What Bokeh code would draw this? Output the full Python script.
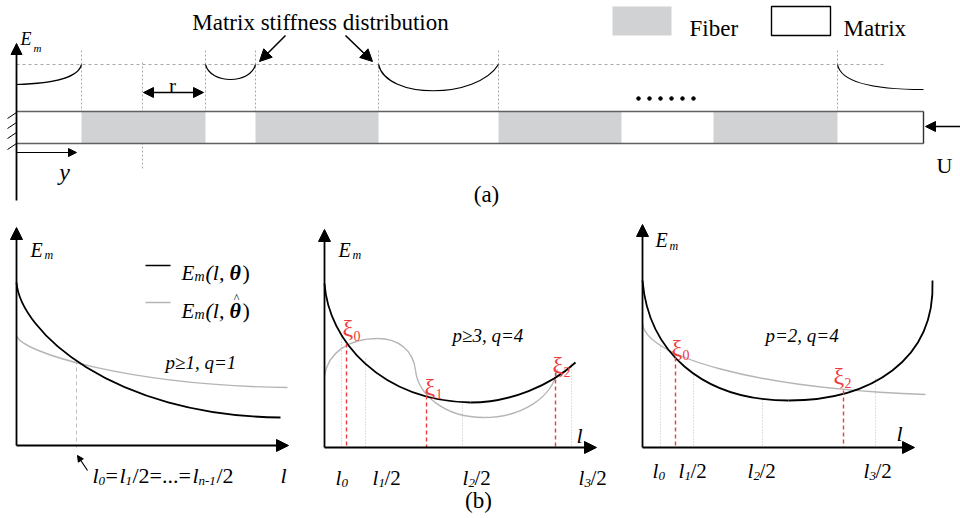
from bokeh.plotting import figure
from bokeh.models import Range1d, Arrow, NormalHead
from bokeh.core.properties import value
from bokeh.embed import file_html
from bokeh.resources import INLINE

SERIF = value("Liberation Serif")
RED = "#ee3b3b"
FIBER_FILL = "#d1d2d4"
CURVE_GRAY = "#b5b5b5"

# ---------------- data (schematic, pixel units of the drawing) ----------------
# (a) bar along y
bar_left, bar_right, bar_top, bar_bottom = 16, 923, 111, 143
fiber_left = [81, 255, 498, 713]
fiber_right = [205, 378, 621, 837]
interface_x = [81, 205, 255, 378, 498, 837]
ref_level = 64
# matrix stiffness distribution, cubic Bezier segments
stiff_x0 = [16, 205, 378, 837]
stiff_y0 = [84, 64, 64, 64]
stiff_cx0 = [52, 210, 386, 840]
stiff_cy0 = [83, 84, 99, 80]
stiff_cx1 = [78, 250, 476, 866]
stiff_cy1 = [77, 84, 99, 89]
stiff_x1 = [81, 255, 498, 923]
stiff_y1 = [64, 64, 64, 89]
dots_x = [638, 649, 660, 671, 682, 693]

# (b) left: p>=1, q=1
left_black = dict(x0=[16], y0=[282], cx0=[20], cy0=[330], cx1=[110], cy1=[415], x1=[280], y1=[417])
left_gray = dict(x0=[16], y0=[335], cx0=[20], cy0=[352], cx1=[130], cy1=[385], x1=[287], y1=[387])
left_l0 = 76

# (b) middle: p>=3, q=4
mid_black = dict(x0=[324, 470], y0=[283, 402], cx0=[328, 510], cy0=[340, 402],
                 cx1=[380, 550], cy1=[400, 385], x1=[470, 575], y1=[402, 362])
mid_gray = dict(x0=[324, 377, 415, 483], y0=[375, 338, 370, 417],
                cx0=[328, 398, 418, 520], cy0=[352, 338, 395, 417],
                cx1=[348, 413, 445, 552], cy1=[338, 350, 417, 398],
                x1=[377, 415, 483, 557], y1=[338, 370, 417, 369])
mid_xi_x = [346, 426, 555]
mid_xi_y = [343, 395, 372]
mid_grid_x = [341, 365, 462, 571]
mid_grid_top = [338, 358, 401, 363]

# (b) right: p=2, q=4
right_black = dict(x0=[642, 788], y0=[280, 400], cx0=[648, 870], cy0=[350, 400],
                   cx1=[700, 935], cy1=[400, 360], x1=[788, 932], y1=[400, 280])
right_gray = dict(x0=[642], y0=[323], cx0=[645], cy0=[355], cx1=[750], cy1=[388], x1=[925], y1=[394])
right_xi_x = [675, 843]
right_xi_y = [357, 390]
right_grid_x = [660, 693, 762, 875]
right_grid_top = [346, 375, 399, 378]

# ---------------- figure ----------------
p = figure(width=960, height=518, x_range=Range1d(0, 960), y_range=Range1d(518, 0),
           output_backend="svg", toolbar_location=None, min_border=0,
           x_axis_location=None, y_axis_location=None)
p.grid.visible = False
p.outline_line_color = None
p.background_fill_color = "white"


def txt(x, y, s, size, style="normal", color="black", align="left"):
    p.text(x=[x], y=[y], text=[s], text_font=SERIF, text_font_size=f"{size}px",
           text_font_style=style, text_color=color, text_align=align,
           text_baseline="alphabetic")


def arrow(x0, y0, x1, y1, size=11, width=1.6):
    h = NormalHead(size=size, fill_color="black", line_color="black", line_width=1)
    p.add_layout(Arrow(end=h, x_start=x0, y_start=y0, x_end=x1, y_end=y1,
                       line_color="black", line_width=width))


def bez(d, color, width):
    p.bezier(line_color=color, line_width=width, **d)


# ---------------- (a) ----------------
p.line([bar_left, 884], [ref_level, ref_level], line_color="#a8a8a8", line_width=1, line_dash="3 3")
p.segment(x0=interface_x, y0=[50] * len(interface_x), x1=interface_x, y1=[bar_top] * len(interface_x),
          line_color="#a8a8a8", line_width=1, line_dash="2 2")
p.segment(x0=[142], y0=[62], x1=[142], y1=[169], line_color="#a8a8a8", line_width=1, line_dash="2 2")

p.quad(left=fiber_left, right=fiber_right, top=[bar_top] * 4, bottom=[bar_bottom] * 4,
       fill_color=FIBER_FILL, line_color=None)
p.segment(x0=[bar_left, bar_left], y0=[bar_top, bar_bottom], x1=[bar_right, bar_right],
          y1=[bar_top, bar_bottom], line_color="#606060", line_width=1.6)
p.segment(x0=[bar_right], y0=[bar_top], x1=[bar_right], y1=[bar_bottom], line_color="#303030", line_width=1.4)

hy = [112, 122, 132, 143]
p.segment(x0=[7] * 4, y0=[h + 6 for h in hy], x1=[16] * 4, y1=hy, line_color="black", line_width=1)

p.bezier(x0=stiff_x0, y0=stiff_y0, cx0=stiff_cx0, cy0=stiff_cy0, cx1=stiff_cx1, cy1=stiff_cy1,
         x1=stiff_x1, y1=stiff_y1, line_color="black", line_width=1.2)
p.scatter(dots_x, [98] * len(dots_x), size=3.6, color="black")

arrow(16, 200, 16, 43, size=11, width=1.8)
arrow(16, 152, 76, 152, size=8, width=1.2)
p.add_layout(Arrow(start=NormalHead(size=10, fill_color="black", line_color="black"),
                   end=NormalHead(size=10, fill_color="black", line_color="black"),
                   x_start=143, y_start=92, x_end=203, y_end=92, line_color="black", line_width=1.6))
arrow(285, 35, 259, 61, size=12, width=1.6)
arrow(345, 35, 372, 61, size=12, width=1.6)
arrow(960, 126, 925, 126, size=10, width=1.4)

txt(320, 22, "Matrix stiffness distribution", 23, align="center")
txt(20, 38, "E", 18, "italic")
txt(33, 47, "m", 11, "italic")
txt(172, 85, "r", 21, align="center")
txt(64, 171, "y", 24, "italic", align="center")
txt(944, 165, "U", 22, align="center")
txt(486, 194, "(a)", 23, align="center")

p.quad(left=[612], right=[671], top=[6], bottom=[35], fill_color=FIBER_FILL, line_color=None)
txt(689, 28, "Fiber", 23)
p.quad(left=[771], right=[830], top=[6], bottom=[35], fill_color="white", line_color="black", line_width=1.4)
txt(843, 28, "Matrix", 23)

# ---------------- (b) panel axes ----------------
arrow(16, 445, 16, 227, size=12, width=1.8)
arrow(16, 445, 288, 445, size=12, width=1.8)
arrow(324, 447, 324, 229, size=12, width=1.8)
arrow(324, 447, 596, 447, size=12, width=1.8)
arrow(642, 447, 642, 224, size=12, width=1.8)
arrow(642, 447, 914, 447, size=12, width=1.8)

# ---------------- (b) left ----------------
p.segment(x0=[left_l0], y0=[360], x1=[left_l0], y1=[447], line_color="#c0c0c0", line_width=1, line_dash="4 3")
bez(left_gray, CURVE_GRAY, 1.4)
bez(left_black, "black", 1.8)
p.line([145, 170], [265, 265], line_color="black", line_width=1.4)
p.line([145, 170], [302, 302], line_color=CURVE_GRAY, line_width=1.4)
txt(30, 249, "E", 20, "italic")
txt(44, 254, "m", 12, "italic")
for yb in (272, 310):
    txt(181, yb, "E", 21, "italic")
    txt(194, yb + 4, "m", 14, "italic")
    txt(205, yb, "(l, ", 22, "italic")
    txt(229, yb, "θ", 22, "bold italic")
    txt(242, yb, ")", 22)
txt(236, 297, "^", 12, align="center")
txt(165, 362, "p≥1, q=1", 19, "italic")
txt(280, 475, "l", 22, "italic")
arrow(87, 470, 77, 455, size=6, width=1.2)
# l0 = l1/2 = ... = l_{n-1}/2
txt(92, 475, "l", 22, "italic")
txt(98, 480, "0", 13, "italic")
txt(105, 475, "=", 22)
txt(119, 475, "l", 22, "italic")
txt(125, 480, "1", 13, "italic")
txt(132, 475, "/2=...=", 22)
txt(192, 475, "l", 22, "italic")
txt(198, 480, "n-1", 13, "italic")
txt(216, 475, "/2", 22)

# ---------------- (b) middle ----------------
p.segment(x0=mid_grid_x, y0=mid_grid_top, x1=mid_grid_x, y1=[447] * 4, line_color="#bdbdbd", line_width=1, line_dash="1 2")
bez(mid_gray, CURVE_GRAY, 1.4)
bez(mid_black, "black", 1.8)
p.segment(x0=mid_xi_x, y0=mid_xi_y, x1=mid_xi_x, y1=[447] * 3, line_color=RED, line_width=1.4, line_dash="4 3")
txt(338, 249, "E", 20, "italic")
txt(352, 254, "m", 12, "italic")
txt(452, 335, "p≥3, q=4", 19, "italic")
txt(576, 435, "l", 22, "italic")
txt(342, 327, "ξ", 24, color=RED)
txt(353, 335, "0", 14, color=RED)
txt(424, 386, "ξ", 24, color=RED)
txt(435, 393, "1", 14, color=RED)
txt(552, 364, "ξ", 24, color=RED)
txt(563, 371, "2", 14, color=RED)
for lx, sub, rest in ((335, "0", ""), (372, "1", "/2"), (462, "2", "/2"), (578, "3", "/2")):
    txt(lx, 477, "l", 21, "italic")
    txt(lx + 6, 482, sub, 13, "italic")
    if rest:
        txt(lx + 12, 477, rest, 21)
txt(478, 500, "(b)", 23, align="center")

# ---------------- (b) right ----------------
p.segment(x0=right_grid_x, y0=right_grid_top, x1=right_grid_x, y1=[447] * 4, line_color="#bdbdbd", line_width=1, line_dash="1 2")
bez(right_gray, CURVE_GRAY, 1.4)
bez(right_black, "black", 1.8)
p.segment(x0=right_xi_x, y0=right_xi_y, x1=right_xi_x, y1=[447] * 2, line_color=RED, line_width=1.4, line_dash="4 3")
txt(655, 239, "E", 20, "italic")
txt(669, 245, "m", 12, "italic")
txt(765, 335, "p=2, q=4", 19, "italic")
txt(896, 433, "l", 22, "italic")
txt(671, 347, "ξ", 24, color=RED)
txt(682, 354, "0", 14, color=RED)
txt(833, 375, "ξ", 24, color=RED)
txt(844, 382, "2", 14, color=RED)
for lx, sub, rest in ((652, "0", ""), (678, "1", "/2"), (747, "2", "/2"), (863, "3", "/2")):
    txt(lx, 470, "l", 21, "italic")
    txt(lx + 6, 475, sub, 13, "italic")
    if rest:
        txt(lx + 12, 470, rest, 21)

open("out.html", "w").write(file_html(p, INLINE))
